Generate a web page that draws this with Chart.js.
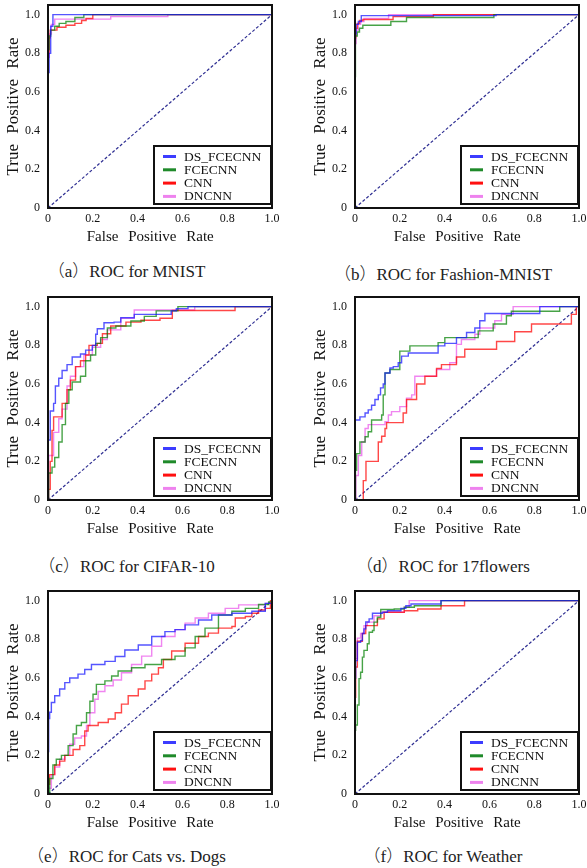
<!DOCTYPE html>
<html><head><meta charset="utf-8">
<script src="https://cdn.jsdelivr.net/npm/chart.js@4.4.1/dist/chart.umd.min.js"></script>
<style>
html,body{margin:0;padding:0;background:#fff;}
body{width:587px;height:868px;position:relative;overflow:hidden;}
.panel{position:absolute;}
.cap{position:absolute;font-size:17px;font-family:"Liberation Serif","DejaVu Serif",serif;color:#222;text-align:center;letter-spacing:0px;white-space:nowrap;line-height:20px;}
.cap .p{font-family:"Noto Sans CJK SC",sans-serif;font-weight:300;}
</style></head><body>
<script>
// ---------- data ----------
const seriesNames = ['DS_FCECNN', 'FCECNN', 'CNN', 'DNCNN'];
const captionLetters = ['a', 'b', 'c', 'd', 'e', 'f'];
const captionTexts = ['ROC for MNIST', 'ROC for Fashion-MNIST', 'ROC for CIFAR-10',
                      'ROC for 17flowers', 'ROC for Cats vs. Dogs', 'ROC for Weather'];
const xTitle = 'False Positive Rate';
const yTitle = 'True Positive Rate';
const xTickValues = [0, 0.2, 0.4, 0.6, 0.8, 1.0];
const xTickLabels = ['0', '0.2', '0.4', '0.6', '0.8', '1.0'];
const yTickValues = [0, 0.2, 0.4, 0.6, 0.8, 1.0];
const yTickLabels = ['0', '0.2', '0.4', '0.6', '0.8', '1.0'];
const chanceLine = [[0, 0], [1, 1]];

// (a) MNIST  — points [fpr, tpr] where tpr steps up
const mnistDS  = [[0,0.70],[0.005,0.80],[0.012,0.94],[0.022,1.0],[1,1]];
const mnistFCE = [[0,0.82],[0.005,0.89],[0.012,0.92],[0.03,0.94],[0.05,0.955],[0.08,0.965],[0.12,0.985],[0.16,1.0],[1,1]];
const mnistCNN = [[0,0.80],[0.004,0.88],[0.01,0.92],[0.04,0.935],[0.08,0.945],[0.12,0.955],[0.15,0.97],[0.17,0.98],[0.2,1.0],[1,1]];
const mnistDN  = [[0,0.78],[0.006,0.9],[0.015,0.95],[0.03,0.977],[0.28,0.99],[0.535,1.0],[1,1]];

// (b) Fashion-MNIST
const fashionDS  = [[0,0.9],[0.005,0.95],[0.015,0.965],[0.028,0.995],[0.63,1.0],[1,1]];
const fashionFCE = [[0,0.68],[0.002,0.89],[0.01,0.91],[0.02,0.93],[0.035,0.945],[0.16,0.965],[0.23,0.985],[0.62,1.0],[1,1]];
const fashionCNN = [[0,0.88],[0.003,0.93],[0.01,0.955],[0.02,0.97],[0.035,0.975],[0.17,0.99],[0.35,1.0],[1,1]];
const fashionDN  = [[0,0.85],[0.005,0.92],[0.015,0.95],[0.025,0.965],[0.04,0.98],[0.15,1.0],[1,1]];

// (c) CIFAR-10
const cifarDS  = [[0,0.31],[0.01,0.46],[0.025,0.5],[0.033,0.59],[0.048,0.63],[0.063,0.67],[0.085,0.7],[0.108,0.74],[0.145,0.755],[0.168,0.775],[0.198,0.8],[0.213,0.857],[0.22,0.886],[0.25,0.917],[0.295,0.92],[0.325,0.943],[0.385,0.96],[0.55,0.978],[0.573,0.99],[0.625,1.0],[1,1]];
const cifarFCE = [[0,0],[0.003,0.14],[0.018,0.17],[0.03,0.22],[0.048,0.3],[0.063,0.39],[0.078,0.5],[0.093,0.57],[0.108,0.61],[0.145,0.64],[0.168,0.72],[0.19,0.75],[0.213,0.81],[0.235,0.84],[0.265,0.89],[0.303,0.9],[0.37,0.926],[0.43,0.95],[0.483,0.978],[0.58,1.0],[1,1]];
const cifarCNN = [[0,0],[0.002,0.055],[0.01,0.2],[0.018,0.36],[0.025,0.43],[0.063,0.5],[0.085,0.57],[0.1,0.62],[0.123,0.69],[0.145,0.72],[0.168,0.75],[0.183,0.8],[0.22,0.81],[0.243,0.86],[0.28,0.9],[0.348,0.92],[0.415,0.93],[0.5,0.94],[0.555,0.98],[0.835,1.0],[1,1]];
const cifarDN  = [[0,0],[0.003,0.23],[0.025,0.35],[0.048,0.42],[0.063,0.47],[0.085,0.59],[0.1,0.64],[0.123,0.69],[0.16,0.75],[0.198,0.79],[0.235,0.83],[0.265,0.88],[0.325,0.94],[0.385,0.983],[0.655,1.0],[1,1]];

// (d) 17flowers
const flowersDS  = [[0,0.414],[0.022,0.43],[0.045,0.45],[0.059,0.466],[0.074,0.49],[0.089,0.52],[0.104,0.544],[0.114,0.58],[0.126,0.6],[0.134,0.657],[0.156,0.683],[0.171,0.69],[0.193,0.71],[0.208,0.744],[0.238,0.76],[0.371,0.797],[0.401,0.81],[0.453,0.84],[0.498,0.866],[0.535,0.89],[0.557,0.927],[0.58,0.965],[0.825,1.0],[1,1]];
const flowersFCE = [[0,0],[0.002,0.153],[0.007,0.24],[0.022,0.3],[0.045,0.327],[0.059,0.353],[0.074,0.414],[0.119,0.44],[0.126,0.544],[0.134,0.657],[0.156,0.675],[0.2,0.77],[0.245,0.797],[0.371,0.814],[0.401,0.84],[0.55,0.875],[0.617,0.91],[0.676,0.953],[0.698,0.976],[0.914,1.0],[1,1]];
const flowersCNN = [[0,0],[0.03,0],[0.037,0.1],[0.049,0.2],[0.104,0.3],[0.119,0.33],[0.134,0.37],[0.141,0.4],[0.215,0.45],[0.23,0.52],[0.275,0.6],[0.312,0.64],[0.364,0.68],[0.386,0.7],[0.453,0.74],[0.49,0.78],[0.632,0.82],[0.713,0.87],[0.788,0.91],[0.966,0.96],[0.988,1.0],[1,1]];
const flowersDN  = [[0,0],[0.004,0.127],[0.015,0.23],[0.03,0.3],[0.045,0.37],[0.059,0.39],[0.134,0.405],[0.149,0.44],[0.163,0.457],[0.2,0.483],[0.23,0.527],[0.253,0.544],[0.267,0.64],[0.364,0.675],[0.423,0.71],[0.453,0.805],[0.475,0.83],[0.535,0.857],[0.557,0.89],[0.624,0.927],[0.654,0.96],[0.706,1.0],[1,1]];

// (e) Cats vs. Dogs
const catsDS  = [[0,0.22],[0.003,0.39],[0.0075,0.423],[0.015,0.473],[0.03,0.508],[0.052,0.543],[0.075,0.576],[0.097,0.6],[0.134,0.62],[0.164,0.644],[0.194,0.67],[0.254,0.686],[0.3,0.711],[0.343,0.745],[0.403,0.771],[0.463,0.815],[0.522,0.84],[0.567,0.85],[0.612,0.875],[0.672,0.9],[0.731,0.926],[0.821,0.935],[0.91,0.945],[0.97,0.986],[1,1]];
const catsFCE = [[0,0],[0.0075,0.08],[0.022,0.15],[0.037,0.18],[0.06,0.2],[0.09,0.25],[0.112,0.31],[0.127,0.354],[0.149,0.37],[0.172,0.42],[0.187,0.48],[0.201,0.516],[0.216,0.567],[0.254,0.585],[0.284,0.61],[0.313,0.636],[0.373,0.653],[0.433,0.67],[0.507,0.696],[0.567,0.713],[0.612,0.756],[0.657,0.815],[0.701,0.858],[0.761,0.926],[0.821,0.945],[0.881,0.96],[0.94,0.98],[0.985,0.994],[1,1]];
const catsCNN = [[0,0.05],[0.0075,0.1],[0.03,0.15],[0.052,0.17],[0.075,0.2],[0.112,0.23],[0.142,0.25],[0.164,0.326],[0.179,0.354],[0.224,0.37],[0.269,0.388],[0.3,0.42],[0.328,0.465],[0.358,0.508],[0.403,0.543],[0.433,0.585],[0.463,0.62],[0.493,0.653],[0.515,0.696],[0.552,0.74],[0.612,0.78],[0.672,0.815],[0.716,0.832],[0.761,0.858],[0.821,0.866],[0.836,0.91],[0.881,0.918],[0.91,0.935],[0.94,0.952],[0.97,0.96],[0.993,1.0],[1,1]];
const catsDN  = [[0,0.03],[0.015,0.1],[0.03,0.14],[0.052,0.18],[0.075,0.2],[0.097,0.257],[0.119,0.29],[0.149,0.3],[0.172,0.354],[0.187,0.42],[0.209,0.49],[0.224,0.53],[0.254,0.56],[0.291,0.59],[0.328,0.627],[0.373,0.67],[0.418,0.713],[0.463,0.764],[0.507,0.815],[0.567,0.85],[0.612,0.884],[0.657,0.91],[0.716,0.935],[0.791,0.96],[0.851,0.978],[0.97,0.986],[1,1]];

// (f) Weather
const weatherDS  = [[0,0.6],[0.003,0.69],[0.0105,0.785],[0.025,0.794],[0.033,0.83],[0.04,0.854],[0.048,0.89],[0.063,0.906],[0.078,0.935],[0.123,0.94],[0.145,0.948],[0.205,0.96],[0.227,0.974],[0.25,0.983],[0.384,1.0],[1,1]];
const weatherFCE = [[0,0.33],[0.003,0.357],[0.0105,0.46],[0.018,0.597],[0.025,0.63],[0.033,0.708],[0.04,0.743],[0.055,0.777],[0.063,0.837],[0.078,0.846],[0.085,0.889],[0.1,0.914],[0.115,0.954],[0.175,0.957],[0.22,0.966],[0.265,0.974],[0.384,1.0],[1,1]];
const weatherCNN = [[0,0.5],[0.003,0.657],[0.0105,0.79],[0.033,0.83],[0.048,0.871],[0.1,0.906],[0.13,0.94],[0.22,0.948],[0.28,0.957],[0.384,0.974],[0.489,1.0],[1,1]];
const weatherDN  = [[0,0.7],[0.0105,0.806],[0.025,0.83],[0.04,0.871],[0.055,0.889],[0.085,0.922],[0.115,0.94],[0.22,0.966],[0.242,1.0],[1,1]];

const panelSeries = [
  [mnistDS, mnistFCE, mnistCNN, mnistDN],
  [fashionDS, fashionFCE, fashionCNN, fashionDN],
  [cifarDS, cifarFCE, cifarCNN, cifarDN],
  [flowersDS, flowersFCE, flowersCNN, flowersDN],
  [catsDS, catsFCE, catsCNN, catsDN],
  [weatherDS, weatherFCE, weatherCNN, weatherDN]
];

// ---------- styles / layout ----------
const lineColors = ['rgba(20,20,255,0.72)', 'rgba(0,128,0,0.72)', 'rgba(255,0,0,0.72)', 'rgba(238,120,238,0.9)'];
const legendColors = ['#3c3cff', '#1f8a2a', '#ff1010', '#ee82ee'];
const panelLeft = [0, 307, 0, 307, 0, 307];
const panelTop = [0, 0, 292, 292, 586, 586];
const capTop = [260, 263, 555, 555, 845, 845];
const capBox = [[0, 253], [307, 272]];
const W = 280, H = 248;
const SERIF = '"Liberation Serif", "DejaVu Serif", serif';

const frameAndLegend = {
  id: 'frameAndLegend',
  beforeDraw(chart) { chart.ctx.wordSpacing = '6px'; },
  afterDatasetsDraw(chart) {
    const {ctx, chartArea: a} = chart;
    const w = 117, h = 58;
    const x = a.right - 1 - w, y = a.bottom - 4 - h;
    ctx.save();
    ctx.fillStyle = '#fff';
    ctx.fillRect(x, y, w, h);
    ctx.lineWidth = 2;
    ctx.strokeStyle = '#111';
    ctx.strokeRect(x, y, w, h);
    ctx.font = '13.5px ' + SERIF;
    ctx.textBaseline = 'middle';
    ctx.textAlign = 'left';
    chart.data.datasets.forEach((ds, i) => {
      if (i >= seriesNames.length) return;
      const ry = y + 10.5 + i * 13.3;
      ctx.strokeStyle = legendColors[i];
      ctx.lineWidth = 3;
      ctx.beginPath();
      ctx.moveTo(x + 9, ry);
      ctx.lineTo(x + 22, ry);
      ctx.stroke();
      ctx.fillStyle = '#111';
      ctx.fillText(ds.label, x + 30, ry + 0.5);
    });
    ctx.restore();
  },
  afterDraw(chart) {
    const {ctx, chartArea: a} = chart;
    ctx.save();
    ctx.lineWidth = 2;
    ctx.strokeStyle = '#111';
    ctx.strokeRect(a.left, a.top, a.right - a.left, a.bottom - a.top);
    ctx.restore();
  }
};

panelSeries.forEach((series, p) => {
  const div = document.createElement('div');
  div.className = 'panel';
  div.style.left = panelLeft[p] + 'px';
  div.style.top = panelTop[p] + 'px';
  const cv = document.createElement('canvas');
  cv.width = W; cv.height = H;
  cv.style.width = W + 'px'; cv.style.height = H + 'px';
  div.appendChild(cv);
  document.body.appendChild(div);

  const cap = document.createElement('div');
  cap.className = 'cap';
  const col = p % 2;
  cap.style.left = capBox[col][0] + 'px';
  cap.style.width = capBox[col][1] + 'px';
  cap.style.top = capTop[p] + 'px';
  const p1 = document.createElement('span'); p1.className = 'p'; p1.textContent = '（';
  const p2 = document.createElement('span'); p2.className = 'p'; p2.textContent = '）';
  cap.appendChild(p1);
  cap.appendChild(document.createTextNode(captionLetters[p]));
  cap.appendChild(p2);
  cap.appendChild(document.createTextNode(captionTexts[p]));
  document.body.appendChild(cap);

  const datasets = series.map((pts, i) => ({
    label: seriesNames[i],
    data: pts.map(([x, y]) => ({x, y})),
    borderColor: lineColors[i],
    borderWidth: 1.4,
    pointRadius: 0,
    stepped: true,
    fill: false
  }));
  datasets.push({
    label: 'chance',
    data: chanceLine.map(([x, y]) => ({x, y})),
    borderColor: 'rgba(35,35,140,0.95)',
    borderWidth: 1.2,
    borderDash: [3, 2],
    pointRadius: 0,
    fill: false
  });

  new Chart(cv, {
    type: 'line',
    data: {datasets},
    options: {
      responsive: false,
      animation: false,
      events: [],
      layout: {padding: {top: 5, right: 8, left: 0, bottom: 0}},
      plugins: {legend: {display: false}, tooltip: {enabled: false}},
      scales: {
        x: {
          type: 'linear', min: 0, max: 1,
          grid: {display: false, drawTicks: false},
          border: {display: false},
          afterBuildTicks: s => { s.ticks = xTickValues.map(v => ({value: v})); },
          afterFit: s => { s.height = 40; s.paddingLeft = 0; s.paddingRight = 0; },
          ticks: {
            padding: 4, maxRotation: 0, color: '#111',
            font: {family: SERIF, size: 12},
            callback: (v, i) => xTickLabels[i]
          },
          title: {display: true, text: xTitle + '  ', color: '#111',
                 font: {family: SERIF, size: 15}, padding: {top: 0, bottom: 2}}
        },
        y: {
          type: 'linear', min: 0, max: 1.05,
          grid: {display: false, drawTicks: false},
          border: {display: false},
          afterBuildTicks: s => { s.ticks = yTickValues.map(v => ({value: v})); },
          afterFit: s => { s.width = 48; s.paddingTop = 0; s.paddingBottom = 0; },
          ticks: {
            padding: 8, color: '#111',
            font: {family: SERIF, size: 12},
            callback: (v, i) => yTickLabels[i]
          },
          title: {display: true, text: yTitle, color: '#111',
                 font: {family: SERIF, size: 17}, padding: {top: 3, bottom: 0}}
        }
      }
    },
    plugins: [frameAndLegend]
  });
});
</script>
</body></html>
